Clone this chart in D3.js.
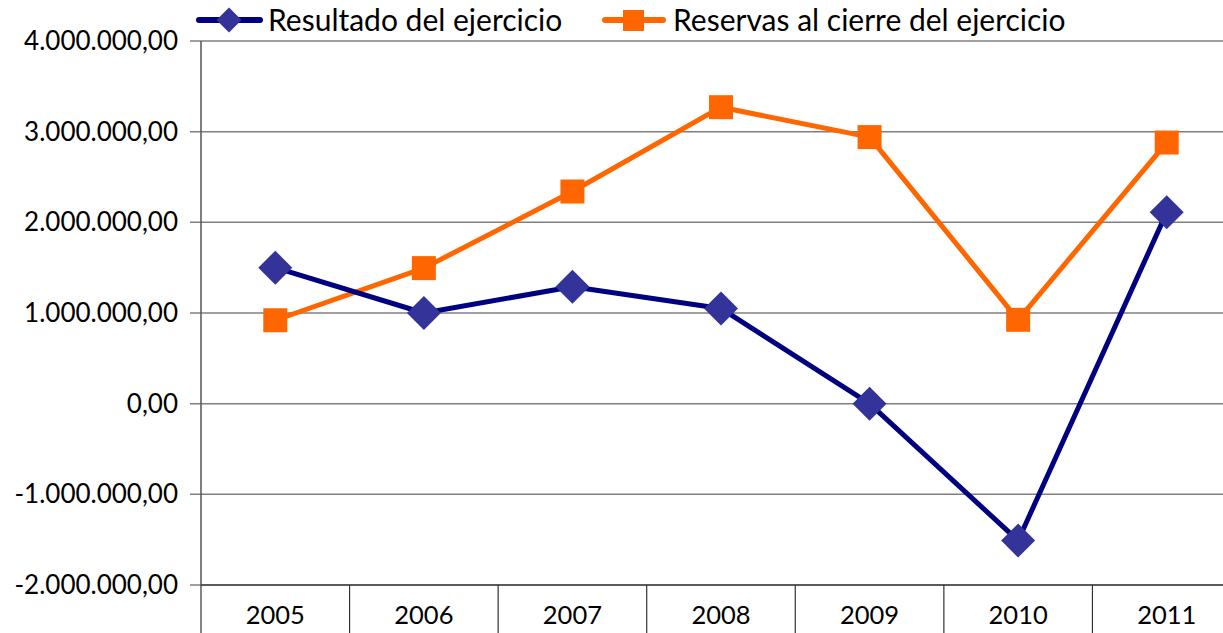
<!DOCTYPE html>
<html>
<head>
<meta charset="utf-8">
<script src="https://cdn.jsdelivr.net/npm/d3@7"></script>
<style>
  body { margin: 0; background: #fff; }
  svg { display: block; font-family: "Lato", "Open Sans", sans-serif; }
</style>
</head>
<body>
<svg id="chart" width="1223" height="633"></svg>
<script>
var years = ["2005", "2006", "2007", "2008", "2009", "2010", "2011"];
var resultado = [1500000, 1000000, 1290000, 1050000, 0, -1510000, 2110000];
var reservas = [920000, 1495000, 2340000, 3270000, 2940000, 925000, 2880000];
var yTicks = [-2000000, -1000000, 0, 1000000, 2000000, 3000000, 4000000];
var seriesNames = ["Resultado del ejercicio", "Reservas al cierre del ejercicio"];

var svg = d3.select("#chart");
var plotLeft = 201, plotRight = 1241, plotTop = 41, plotBottom = 585;

var es = d3.formatLocale({decimal: ",", thousands: ".", grouping: [3], currency: ["", " €"], minus: "-"});
var fmt = es.format(",.2f");

var x = d3.scaleBand().domain(years).range([plotLeft, plotRight]);
var y = d3.scaleLinear().domain([-2000000, 4000000]).range([plotBottom, plotTop]);

// gridlines (with the small tick stubs left of the axis)
svg.append("g")
    .selectAll("line")
    .data(yTicks)
    .enter().append("line")
    .attr("x1", plotLeft - 11).attr("x2", plotRight)
    .attr("y1", function (d) { return y(d); })
    .attr("y2", function (d) { return y(d); })
    .attr("stroke", "#7f7f7f")
    .attr("stroke-width", 1.5);

// y axis line
svg.append("line")
    .attr("x1", plotLeft).attr("x2", plotLeft)
    .attr("y1", plotTop).attr("y2", plotBottom)
    .attr("stroke", "#555").attr("stroke-width", 1.5);

// x axis line and category separators
svg.append("line")
    .attr("x1", plotLeft).attr("x2", plotRight)
    .attr("y1", plotBottom).attr("y2", plotBottom)
    .attr("stroke", "#444").attr("stroke-width", 1.5);
svg.append("g")
    .selectAll("line")
    .data(years)
    .enter().append("line")
    .attr("x1", function (d) { return x(d); })
    .attr("x2", function (d) { return x(d); })
    .attr("y1", plotBottom).attr("y2", 640)
    .attr("stroke", "#333").attr("stroke-width", 1.2);

// y labels
svg.append("g")
    .selectAll("text")
    .data(yTicks)
    .enter().append("text")
    .attr("x", 178)
    .attr("y", function (d) { return y(d) + 9; })
    .attr("text-anchor", "end")
    .style("font-size", "26px")
    .style("fill", "#000")
    .text(function (d) { return fmt(d); });

// x labels
svg.append("g")
    .selectAll("text")
    .data(years)
    .enter().append("text")
    .attr("x", function (d) { return x(d) + x.bandwidth() / 2; })
    .attr("y", 624)
    .attr("text-anchor", "middle")
    .style("font-size", "25.5px")
    .style("fill", "#000")
    .text(function (d) { return d; });

var line = d3.line()
    .x(function (d, i) { return x(years[i]) + x.bandwidth() / 2; })
    .y(function (d) { return y(d); });

svg.append("path")
    .datum(reservas)
    .attr("d", line)
    .attr("fill", "none")
    .attr("stroke", "#ff6600")
    .attr("stroke-width", 5)
    .attr("stroke-linejoin", "round");

svg.append("g")
    .selectAll("rect")
    .data(reservas)
    .enter().append("rect")
    .attr("x", function (d, i) { return x(years[i]) + x.bandwidth() / 2 - 12; })
    .attr("y", function (d) { return y(d) - 12; })
    .attr("width", 24).attr("height", 24)
    .attr("fill", "#ff6600");

svg.append("path")
    .datum(resultado)
    .attr("d", line)
    .attr("fill", "none")
    .attr("stroke", "#000080")
    .attr("stroke-width", 5)
    .attr("stroke-linejoin", "round");

svg.append("g")
    .selectAll("path")
    .data(resultado)
    .enter().append("path")
    .attr("d", "M0,-17L17,0L0,17L-17,0Z")
    .attr("transform", function (d, i) {
        return "translate(" + (x(years[i]) + x.bandwidth() / 2) + "," + y(d) + ")";
    })
    .attr("fill", "#333399");

// legend
var leg1 = svg.append("g");
leg1.append("line")
    .attr("x1", 199).attr("x2", 260).attr("y1", 20).attr("y2", 20)
    .attr("stroke", "#000080").attr("stroke-width", 6).attr("stroke-linecap", "round");
leg1.append("path")
    .attr("d", "M0,-12.5L12.5,0L0,12.5L-12.5,0Z")
    .attr("transform", "translate(229,20)")
    .attr("fill", "#333399");
leg1.append("text")
    .attr("x", 268).attr("y", 31)
    .style("font-size", "30px")
    .text(seriesNames[0]);

var leg2 = svg.append("g");
leg2.append("line")
    .attr("x1", 605).attr("x2", 663).attr("y1", 20).attr("y2", 20)
    .attr("stroke", "#ff6600").attr("stroke-width", 6).attr("stroke-linecap", "round");
leg2.append("rect")
    .attr("x", 623).attr("y", 10).attr("width", 21).attr("height", 21)
    .attr("fill", "#ff6600");
leg2.append("text")
    .attr("x", 673).attr("y", 31)
    .style("font-size", "30px")
    .text(seriesNames[1]);
</script>
</body>
</html>
